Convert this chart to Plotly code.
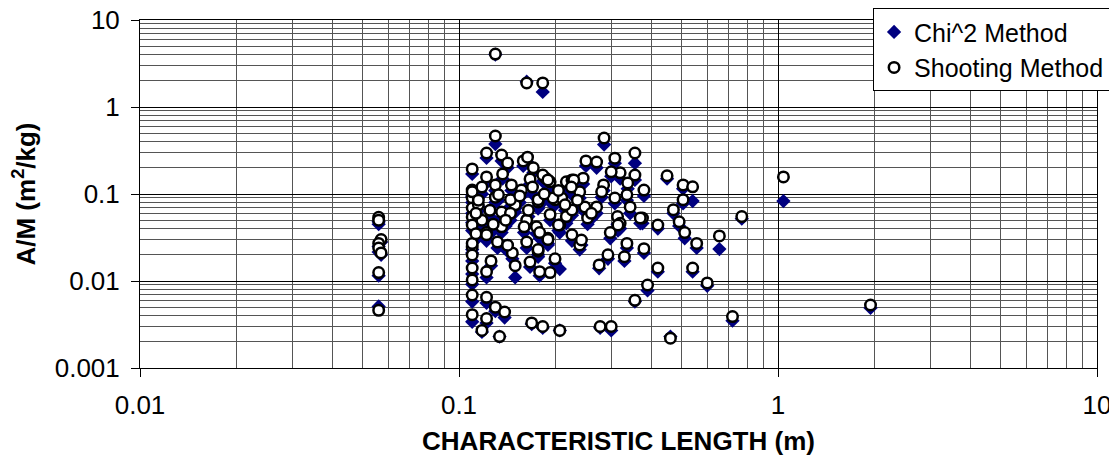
import plotly.graph_objects as go

# Shooting Method (circles)
shoot_x = [0.056,0.056,0.057,0.056,0.056,0.057,0.056,0.056,
    0.130,0.163,0.183,0.130,0.285,
    0.122,0.110,0.136,0.142,0.159,0.164,0.122,0.130,0.137,0.171,0.167,0.187,0.193,0.217,0.226,0.157,0.146,0.110,0.110,0.110,0.130,0.150,0.177,0.200,0.210,
    0.356,0.308,0.250,0.270,0.320,0.300,0.356,0.449,0.504,0.540,0.504,0.470,0.380,0.336,0.308,0.284,0.245,0.229,0.239,0.270,0.248,0.344,0.376,0.314,0.280,0.338,
    0.253,0.320,0.370,0.420,0.490,0.510,0.556,0.298,0.239,0.336,0.380,0.293,0.330,0.275,0.420,0.540,0.600,0.390,0.356,0.277,0.300,0.460,0.720,0.655,0.770,1.040,1.950,
    0.197,0.177,0.217,0.193,0.226,0.175,0.163,0.150,0.145,0.133,0.110,0.110,0.110,0.118,0.122,0.136,0.145,0.136,0.160,0.207,0.190,0.179,0.226,0.242,0.315,0.110,0.163,0.132,
    0.122,0.110,0.110,0.110,0.110,0.110,0.110,0.118,0.122,0.130,0.139,0.122,0.134,0.169,0.183,0.207,
    0.200,0.193,0.179,0.167,0.177,0.150,0.147,0.142,0.126,0.122,0.190,0.205,0.177,
    0.115,0.118,0.125,0.140,0.155,0.165,0.185,0.205,0.215,0.235,0.260,0.225,0.170,0.128,0.113,0.113,0.115,0.183,0.190]
shoot_y = [0.054,0.050,0.030,0.027,0.024,0.021,0.0125,0.0046,
    4.06,1.89,1.89,0.464,0.44,
    0.296,0.194,0.28,0.227,0.24,0.265,0.157,0.127,0.17,0.2,0.149,0.152,0.138,0.138,0.145,0.111,0.127,0.111,0.09,0.069,0.092,0.079,0.081,0.086,0.09,
    0.296,0.258,0.24,0.233,0.175,0.18,0.165,0.162,0.127,0.121,0.086,0.066,0.111,0.098,0.09,0.127,0.152,0.145,0.106,0.071,0.071,0.071,0.053,0.055,0.106,0.134,
    0.053,0.046,0.053,0.044,0.048,0.036,0.027,0.036,0.026,0.027,0.0235,0.020,0.019,0.0153,0.0141,0.0141,0.0095,0.009,0.006,0.003,0.003,0.0022,0.0039,0.033,0.055,0.157,0.0053,
    0.09,0.086,0.055,0.058,0.0655,0.042,0.050,0.075,0.086,0.098,0.106,0.0545,0.044,0.050,0.036,0.062,0.060,0.042,0.042,0.044,0.031,0.036,0.034,0.0296,0.044,0.0246,0.028,0.028,
    0.034,0.027,0.0199,0.0141,0.0103,0.0069,0.0041,0.0027,0.0065,0.0050,0.0044,0.0037,0.0023,0.0033,0.0030,0.0027,
    0.018,0.0125,0.0128,0.0165,0.022,0.015,0.021,0.0258,0.017,0.0128,0.030,0.044,0.023,
    0.075,0.12,0.065,0.050,0.095,0.065,0.10,0.11,0.075,0.085,0.060,0.12,0.12,0.045,0.035,0.060,0.085,0.165,0.145]

# Chi^2 Method (diamonds)
chi_x = [0.056,0.056,0.057,0.056,0.056,0.057,0.056,0.056,
    0.130,0.163,0.183,0.130,0.285,
    0.122,0.110,0.136,0.142,0.159,0.164,0.122,0.130,0.137,0.171,0.167,0.187,0.193,0.217,0.226,0.157,0.146,0.110,0.110,0.110,0.130,0.150,0.177,0.200,0.210,
    0.356,0.308,0.250,0.270,0.320,0.300,0.356,0.449,0.504,0.540,0.504,0.470,0.380,0.336,0.308,0.284,0.245,0.229,0.239,0.270,0.248,0.344,0.376,0.314,0.280,0.338,
    0.253,0.320,0.370,0.420,0.490,0.510,0.556,0.298,0.239,0.336,0.380,0.293,0.330,0.275,0.420,0.540,0.600,0.390,0.356,0.277,0.300,0.460,0.720,0.655,0.770,1.040,1.950,
    0.197,0.177,0.217,0.193,0.226,0.175,0.163,0.150,0.145,0.133,0.110,0.110,0.110,0.118,0.122,0.136,0.145,0.136,0.160,0.207,0.190,0.179,0.226,0.242,0.315,0.110,0.163,0.132,
    0.122,0.110,0.110,0.110,0.110,0.110,0.110,0.118,0.122,0.130,0.139,0.122,0.134,0.169,0.183,0.207,
    0.200,0.207,0.179,0.167,0.177,0.150,0.147,0.142,0.126,0.122,0.190,0.205,0.177,
    0.115,0.118,0.125,0.140,0.155,0.165,0.185,0.205,0.215,0.235,0.260,0.225,0.170,0.128,0.113,0.113,0.115,0.183,0.190]
chi_y = [0.048,0.045,0.028,0.025,0.0215,0.020,0.0115,0.0051,
    4.0,1.95,1.49,0.375,0.37,
    0.26,0.17,0.24,0.20,0.21,0.23,0.135,0.11,0.15,0.175,0.13,0.135,0.12,0.12,0.125,0.095,0.11,0.095,0.08,0.06,0.08,0.068,0.068,0.075,0.078,
    0.226,0.225,0.21,0.20,0.15,0.16,0.145,0.15,0.115,0.083,0.078,0.06,0.095,0.085,0.078,0.11,0.13,0.125,0.09,0.06,0.062,0.06,0.046,0.045,0.092,0.115,
    0.045,0.04,0.046,0.04,0.043,0.031,0.024,0.031,0.023,0.024,0.021,0.018,0.017,0.014,0.0128,0.0128,0.0088,0.0078,0.0058,0.0029,0.0027,0.0023,0.0035,0.0233,0.052,0.083,0.0049,
    0.075,0.072,0.046,0.05,0.057,0.035,0.043,0.062,0.072,0.085,0.092,0.047,0.038,0.043,0.031,0.053,0.05,0.036,0.036,0.036,0.027,0.031,0.029,0.026,0.038,0.021,0.024,0.024,
    0.029,0.023,0.017,0.012,0.0092,0.0058,0.0034,0.0026,0.0056,0.0045,0.0038,0.0033,0.0023,0.0032,0.0029,0.0027,
    0.016,0.0137,0.0115,0.0145,0.019,0.011,0.018,0.022,0.015,0.011,0.026,0.038,0.02,
    0.064,0.10,0.055,0.043,0.08,0.055,0.085,0.095,0.065,0.072,0.052,0.10,0.10,0.038,0.03,0.052,0.072,0.14,0.125]

x_ticks = [0.01, 0.1, 1, 10]
x_labels = ["0.01", "0.1", "1", "10"]
y_ticks = [0.001, 0.01, 0.1, 1, 10]
y_labels = ["0.001", "0.01", "0.1", "1", "10"]

def minor_vals(lo_exp, hi_exp):
    vals = []
    for e in range(lo_exp, hi_exp):
        for m in range(2, 10):
            vals.append(m * 10 ** e)
    return vals

FONT = "Arial, Liberation Sans, sans-serif"
FS = 26

fig = go.Figure()
fig.add_trace(go.Scatter(
    x=chi_x, y=chi_y, mode="markers", name="Chi^2 Method",
    marker=dict(symbol="diamond", size=11, color="#000080", line=dict(width=0)),
))
fig.add_trace(go.Scatter(
    x=shoot_x, y=shoot_y, mode="markers", name="Shooting Method",
    marker=dict(symbol="circle", size=10.5, color="white", line=dict(width=2.5, color="black")),
))

# page body has an 8px margin; figure sized to fill the 1117x470 window
fig.update_layout(
    width=1109, height=462,
    margin=dict(l=132, r=20, t=12, b=102, autoexpand=False),
    paper_bgcolor="white", plot_bgcolor="white",
    font=dict(family=FONT, size=FS, color="black"),
    showlegend=True,
    legend=dict(
        x=0.766, y=1.034, xanchor="left", yanchor="top",
        bgcolor="white", bordercolor="black", borderwidth=1,
        font=dict(family=FONT, size=25, color="black"),
        tracegroupgap=0, itemsizing="trace", itemwidth=30,
    ),
    xaxis=dict(
        type="log", range=[-2, 1], automargin=False,
        tickmode="array", tickvals=x_ticks, ticktext=x_labels,
        ticks="outside", ticklen=8, tickcolor="black", ticklabelstandoff=6,
        ticklabeloverflow="allow",
        showline=True, linecolor="black", linewidth=1, mirror=True,
        showgrid=True, gridcolor="black", gridwidth=1,
        zeroline=False,
        minor=dict(tickmode="array", tickvals=minor_vals(-2, 1), showgrid=True,
                   gridcolor="#555555", gridwidth=1, ticks=""),
        tickfont=dict(size=FS),
        title=dict(text="<b>CHARACTERISTIC LENGTH (m)</b>", font=dict(size=FS), standoff=12),
    ),
    yaxis=dict(
        type="log", range=[-3, 1], automargin=False,
        tickmode="array", tickvals=y_ticks, ticktext=y_labels,
        ticks="outside", ticklen=8, tickcolor="black", ticklabelstandoff=6,
        ticklabeloverflow="allow",
        showline=True, linecolor="black", linewidth=1, mirror=True,
        showgrid=True, gridcolor="black", gridwidth=1,
        zeroline=False,
        minor=dict(tickmode="array", tickvals=minor_vals(-3, 1), showgrid=True,
                   gridcolor="#555555", gridwidth=1, ticks=""),
        tickfont=dict(size=FS),
        title=dict(text="<b>A/M (m<sup>2</sup>/kg)</b>", font=dict(size=FS), standoff=11),
    ),
)

fig.write_html("out.html")
